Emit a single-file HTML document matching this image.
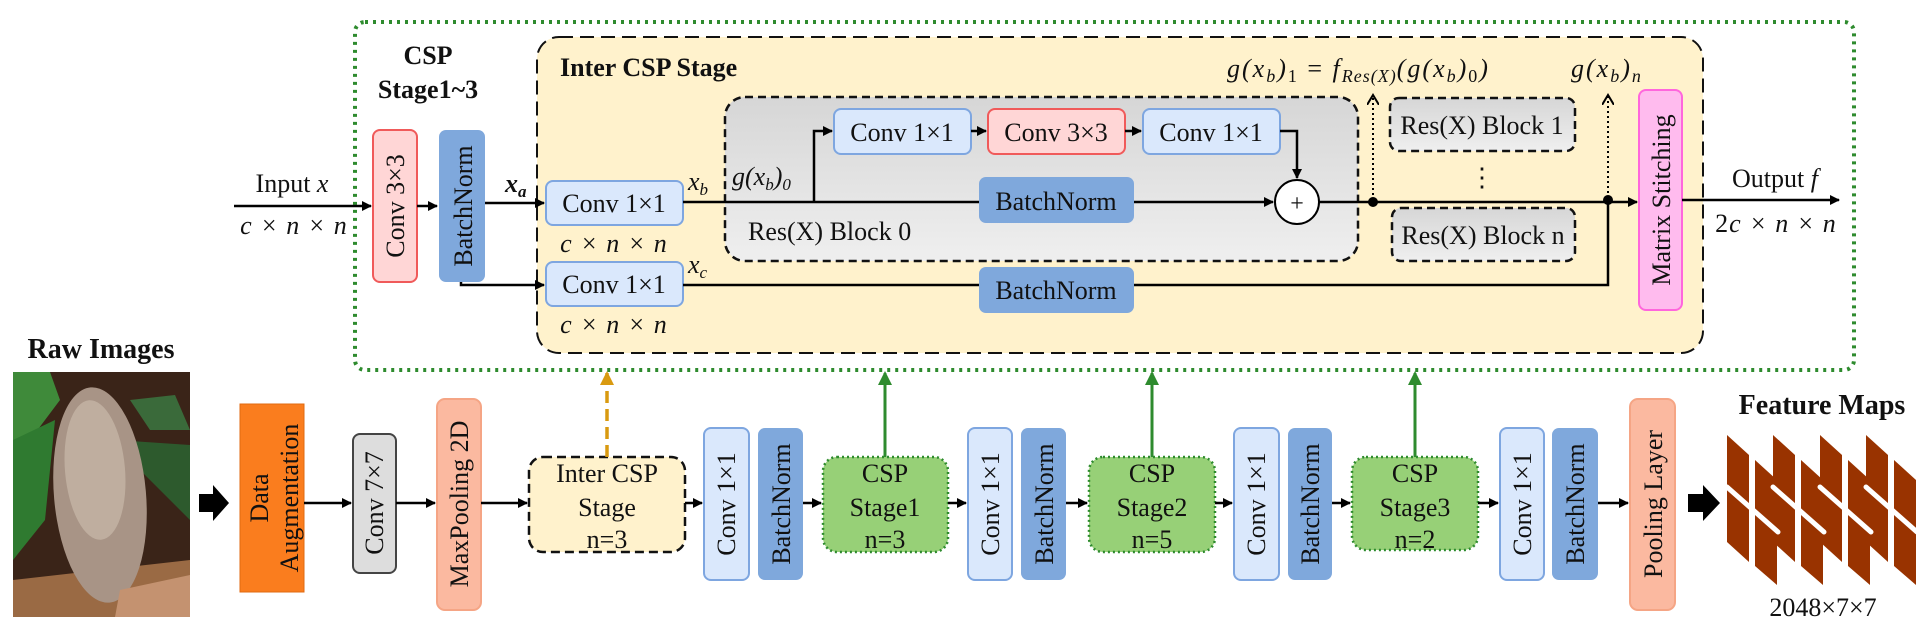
<!DOCTYPE html>
<html><head><meta charset="utf-8"><style>
html,body{margin:0;padding:0;background:#fff;}
svg{display:block;}
text{font-family:"Liberation Serif","Times New Roman",serif;fill:#111;}
.t{font-size:26px;}
.i{font-style:italic;}
.b{font-weight:bold;}
</style></head><body>
<svg width="1931" height="639" viewBox="0 0 1931 639" xmlns="http://www.w3.org/2000/svg" font-family="Liberation Serif, serif">
<defs>
<marker id="a" markerWidth="10" markerHeight="10" refX="9" refY="5" orient="auto" markerUnits="userSpaceOnUse"><path d="M0,0 L10,5 L0,10 z" fill="#000"/></marker>
<marker id="ag" markerWidth="14" markerHeight="14" refX="12" refY="7" orient="auto" markerUnits="userSpaceOnUse"><path d="M0,0 L14,7 L0,14 z" fill="#2e8b2e"/></marker>
<marker id="ao" markerWidth="14" markerHeight="14" refX="12" refY="7" orient="auto" markerUnits="userSpaceOnUse"><path d="M0,0 L14,7 L0,14 z" fill="#d99a10"/></marker>
<marker id="ad" markerWidth="12" markerHeight="12" refX="10" refY="6" orient="auto" markerUnits="userSpaceOnUse"><path d="M0,0 L10,6 L0,12" fill="none" stroke="#000" stroke-width="2"/></marker>
<linearGradient id="gr" x1="0" y1="0" x2="0" y2="1"><stop offset="0" stop-color="#d6d6d6"/><stop offset="1" stop-color="#efefef"/></linearGradient>
</defs>

<rect x="355" y="22" width="1499" height="348" rx="10" fill="none" stroke="#2e8b2e" stroke-width="4" stroke-dasharray="3 5"/>
<rect x="537" y="37" width="1166" height="316" rx="22" fill="#fff2cc" stroke="#111" stroke-width="2" stroke-dasharray="14 7"/>

<text class="t b" x="428" y="64" text-anchor="middle">CSP</text>
<text class="t b" x="428" y="98" text-anchor="middle">Stage1~3</text>
<text class="t b" x="560" y="76">Inter CSP Stage</text>

<line x1="234" y1="206" x2="371" y2="206" stroke="#000" stroke-width="2.5" marker-end="url(#a)"/>
<text class="t" x="292" y="192" text-anchor="middle">Input <tspan class="i">x</tspan></text>
<text class="t i" x="294" y="234" text-anchor="middle" letter-spacing="1">c × n × n</text>

<rect x="373" y="130" width="44" height="152" rx="7" fill="#ffd6d6" stroke="#f05a5a" stroke-width="2"/>
<text class="t" transform="translate(404,206) rotate(-90)" text-anchor="middle">Conv  3×3</text>
<line x1="417" y1="206" x2="437" y2="206" stroke="#000" stroke-width="2.5" marker-end="url(#a)"/>
<rect x="439" y="130" width="46" height="152" rx="7" fill="#7fa8dc"/>
<text class="t" transform="translate(472,206) rotate(-90)" text-anchor="middle">BatchNorm</text>

<line x1="485" y1="203" x2="544" y2="203" stroke="#000" stroke-width="2.5" marker-end="url(#a)"/>
<text class="t i b" x="505" y="192">x<tspan font-size="17" dy="5">a</tspan></text>
<polyline points="461,282 461,285 544,285" fill="none" stroke="#000" stroke-width="2.5" marker-end="url(#a)"/>

<rect x="546" y="181" width="137" height="44" rx="7" fill="#dae8fc" stroke="#7ea6e0" stroke-width="2"/>
<text class="t" x="614" y="212" text-anchor="middle">Conv  1×1</text>
<text class="t i" x="614" y="252" text-anchor="middle" letter-spacing="1">c × n × n</text>
<rect x="546" y="262" width="137" height="44" rx="7" fill="#dae8fc" stroke="#7ea6e0" stroke-width="2"/>
<text class="t" x="614" y="293" text-anchor="middle">Conv  1×1</text>
<text class="t i" x="614" y="333" text-anchor="middle" letter-spacing="1">c × n × n</text>
<text class="t i" x="688" y="190">x<tspan font-size="17" dy="5">b</tspan></text>
<text class="t i" x="688" y="273">x<tspan font-size="17" dy="5">c</tspan></text>

<rect x="725" y="97" width="633" height="164" rx="20" fill="url(#gr)" stroke="#111" stroke-width="2.5" stroke-dasharray="8 5"/>
<text class="t i" x="732" y="185">g(x<tspan font-size="17" dy="5">b</tspan><tspan dy="-5">)</tspan><tspan font-size="17" dy="5">0</tspan></text>
<text class="t" x="748" y="240">Res(X) Block  0</text>
<line x1="683" y1="202" x2="1273" y2="202" stroke="#000" stroke-width="2.5" marker-end="url(#a)"/>
<polyline points="814,202 814,131 832,131" fill="none" stroke="#000" stroke-width="2.5" marker-end="url(#a)"/>
<rect x="834" y="109" width="137" height="45" rx="7" fill="#dae8fc" stroke="#7ea6e0" stroke-width="2"/>
<text class="t" x="902" y="141" text-anchor="middle">Conv  1×1</text>
<line x1="971" y1="131" x2="986" y2="131" stroke="#000" stroke-width="2.5" marker-end="url(#a)"/>
<rect x="988" y="109" width="137" height="45" rx="7" fill="#ffd6d6" stroke="#f05a5a" stroke-width="2"/>
<text class="t" x="1056" y="141" text-anchor="middle">Conv  3×3</text>
<line x1="1125" y1="131" x2="1141" y2="131" stroke="#000" stroke-width="2.5" marker-end="url(#a)"/>
<rect x="1143" y="109" width="137" height="45" rx="7" fill="#dae8fc" stroke="#7ea6e0" stroke-width="2"/>
<text class="t" x="1211" y="141" text-anchor="middle">Conv  1×1</text>
<polyline points="1280,131 1297,131 1297,178" fill="none" stroke="#000" stroke-width="2.5" marker-end="url(#a)"/>
<rect x="979" y="177" width="155" height="46" rx="7" fill="#7fa8dc"/>
<text class="t" x="1056" y="210" text-anchor="middle">BatchNorm</text>
<circle cx="1297" cy="202" r="22" fill="#fff" stroke="#000" stroke-width="2"/>
<text x="1297" y="211" text-anchor="middle" font-size="24">+</text>
<line x1="1319" y1="202" x2="1637" y2="202" stroke="#000" stroke-width="2.5" marker-end="url(#a)"/>
<circle cx="1373" cy="202" r="5" fill="#000"/>
<line x1="1373" y1="200" x2="1373" y2="95" stroke="#000" stroke-width="2" stroke-dasharray="2 3" marker-end="url(#ad)"/>
<circle cx="1608" cy="200" r="5" fill="#000"/>
<line x1="1608" y1="198" x2="1608" y2="95" stroke="#000" stroke-width="2" stroke-dasharray="2 3" marker-end="url(#ad)"/>

<text class="t i" x="1227" y="77" font-size="28" letter-spacing="2">g(x<tspan font-size="18" dy="5">b</tspan><tspan dy="-5">)</tspan><tspan font-size="18" dy="5" font-style="normal">1</tspan><tspan dy="-5" font-style="normal"> = </tspan>f<tspan font-size="18" dy="5" letter-spacing="1">Res(X)</tspan><tspan dy="-5">(g(x</tspan><tspan font-size="18" dy="5">b</tspan><tspan dy="-5">)</tspan><tspan font-size="18" dy="5" font-style="normal">0</tspan><tspan dy="-5">)</tspan></text>
<text class="t i" x="1571" y="77" font-size="28" letter-spacing="2">g(x<tspan font-size="18" dy="5">b</tspan><tspan dy="-5">)</tspan><tspan font-size="18" dy="5">n</tspan></text>

<rect x="1390" y="98" width="185" height="53" rx="9" fill="url(#gr)" stroke="#111" stroke-width="2.5" stroke-dasharray="8 5"/>
<text class="t" x="1482" y="134" text-anchor="middle">Res(X) Block  1</text>
<text class="t" x="1482" y="186" text-anchor="middle">⋮</text>
<rect x="1392" y="208" width="183" height="53" rx="9" fill="url(#gr)" stroke="#111" stroke-width="2.5" stroke-dasharray="8 5"/>
<text class="t" x="1483" y="244" text-anchor="middle">Res(X) Block  n</text>

<line x1="683" y1="285" x2="979" y2="285" stroke="#000" stroke-width="2.5"/>
<rect x="979" y="267" width="155" height="46" rx="7" fill="#7fa8dc"/>
<text class="t" x="1056" y="299" text-anchor="middle">BatchNorm</text>
<polyline points="1134,285 1608,285 1608,202" fill="none" stroke="#000" stroke-width="2.5"/>

<rect x="1639" y="90" width="43" height="220" rx="7" fill="#ffbbee" stroke="#ff66dd" stroke-width="2"/>
<text class="t" transform="translate(1670,200) rotate(-90)" text-anchor="middle">Matrix  Stitching</text>
<line x1="1682" y1="200" x2="1839" y2="200" stroke="#000" stroke-width="2.5" marker-end="url(#a)"/>
<text class="t" x="1775" y="187" text-anchor="middle">Output <tspan class="i">f</tspan></text>
<text class="t" x="1776" y="232" text-anchor="middle" letter-spacing="1">2<tspan class="i">c × n × n</tspan></text>

<text class="b" x="101" y="358" text-anchor="middle" font-size="28">Raw Images</text>
<g>
<rect x="13" y="372" width="177" height="245" fill="#3a2418"/>
<polygon points="13,372 50,372 60,400 30,440 13,450" fill="#3f8a3a"/>
<polygon points="13,440 55,420 45,520 13,560" fill="#2f7a30"/>
<polygon points="115,440 190,445 190,520 140,470" fill="#2d5a2d"/>
<polygon points="130,400 175,395 190,430 150,430" fill="#3a6a3a"/>
<polygon points="13,580 190,560 190,617 13,617" fill="#9a6a44"/>
<ellipse cx="100" cy="495" rx="46" ry="108" fill="#a89486" transform="rotate(-5 100 495)"/>
<ellipse cx="95" cy="470" rx="30" ry="70" fill="#bfae9f" transform="rotate(-5 95 470)"/>
<polygon points="120,590 190,575 190,617 115,617" fill="#c49270"/>
</g>
<polygon points="199,494 213,494 213,485 229,503 213,521 213,512 199,512" fill="#000"/>

<rect x="240" y="404" width="64" height="188" fill="#fa7d1e" stroke="#e06a10" stroke-width="1"/>
<text class="t" transform="translate(268,498) rotate(-90)" text-anchor="middle">Data</text>
<text class="t" transform="translate(298,498) rotate(-90)" text-anchor="middle">Augmentation</text>
<line x1="304" y1="503" x2="351" y2="503" stroke="#000" stroke-width="2.5" marker-end="url(#a)"/>
<rect x="353" y="434" width="43" height="139" rx="7" fill="#dddddd" stroke="#444" stroke-width="2"/>
<text class="t" transform="translate(383,503) rotate(-90)" text-anchor="middle">Conv   7×7</text>
<line x1="396" y1="503" x2="435" y2="503" stroke="#000" stroke-width="2.5" marker-end="url(#a)"/>
<rect x="437" y="399" width="44" height="211" rx="8" fill="#fbb9a0" stroke="#f5a585" stroke-width="2"/>
<text class="t" transform="translate(468,504) rotate(-90)" text-anchor="middle">MaxPooling  2D</text>
<line x1="481" y1="503" x2="527" y2="503" stroke="#000" stroke-width="2.5" marker-end="url(#a)"/>
<rect x="529" y="457" width="156" height="95" rx="14" fill="#fff2cc" stroke="#111" stroke-width="2.5" stroke-dasharray="9 5"/>
<text class="t" x="607" y="482" text-anchor="middle">Inter CSP</text>
<text class="t" x="607" y="516" text-anchor="middle">Stage</text>
<text class="t" x="607" y="548" text-anchor="middle">n=3</text>
<line x1="607" y1="457" x2="607" y2="373" stroke="#d99a10" stroke-width="3.5" stroke-dasharray="12 6" marker-end="url(#ao)"/>

<line x1="685" y1="503" x2="702" y2="503" stroke="#000" stroke-width="2.5" marker-end="url(#a)"/>
<rect x="704" y="428" width="45" height="152" rx="7" fill="#dae8fc" stroke="#7ea6e0" stroke-width="2"/>
<text class="t" transform="translate(735,504) rotate(-90)" text-anchor="middle">Conv  1×1</text>
<rect x="758" y="428" width="45" height="152" rx="7" fill="#7fa8dc"/>
<text class="t" transform="translate(790,504) rotate(-90)" text-anchor="middle">BatchNorm</text>
<line x1="803" y1="503" x2="821" y2="503" stroke="#000" stroke-width="2.5" marker-end="url(#a)"/>
<rect x="823" y="457" width="125" height="95" rx="14" fill="#97d077" stroke="#2e8b2e" stroke-width="2.5" stroke-dasharray="2 3"/>
<text class="t" x="885" y="482" text-anchor="middle">CSP</text>
<text class="t" x="885" y="516" text-anchor="middle">Stage1</text>
<text class="t" x="885" y="548" text-anchor="middle">n=3</text>
<line x1="885" y1="457" x2="885" y2="373" stroke="#2e8b2e" stroke-width="3" marker-end="url(#ag)"/>
<line x1="948" y1="503" x2="966" y2="503" stroke="#000" stroke-width="2.5" marker-end="url(#a)"/>

<rect x="968" y="428" width="44" height="152" rx="7" fill="#dae8fc" stroke="#7ea6e0" stroke-width="2"/>
<text class="t" transform="translate(999,504) rotate(-90)" text-anchor="middle">Conv  1×1</text>
<rect x="1021" y="428" width="45" height="152" rx="7" fill="#7fa8dc"/>
<text class="t" transform="translate(1053,504) rotate(-90)" text-anchor="middle">BatchNorm</text>
<line x1="1066" y1="503" x2="1087" y2="503" stroke="#000" stroke-width="2.5" marker-end="url(#a)"/>
<rect x="1089" y="457" width="126" height="95" rx="14" fill="#97d077" stroke="#2e8b2e" stroke-width="2.5" stroke-dasharray="2 3"/>
<text class="t" x="1152" y="482" text-anchor="middle">CSP</text>
<text class="t" x="1152" y="516" text-anchor="middle">Stage2</text>
<text class="t" x="1152" y="548" text-anchor="middle">n=5</text>
<line x1="1152" y1="457" x2="1152" y2="373" stroke="#2e8b2e" stroke-width="3" marker-end="url(#ag)"/>
<line x1="1215" y1="503" x2="1232" y2="503" stroke="#000" stroke-width="2.5" marker-end="url(#a)"/>

<rect x="1234" y="428" width="45" height="152" rx="7" fill="#dae8fc" stroke="#7ea6e0" stroke-width="2"/>
<text class="t" transform="translate(1265,504) rotate(-90)" text-anchor="middle">Conv  1×1</text>
<rect x="1288" y="428" width="44" height="152" rx="7" fill="#7fa8dc"/>
<text class="t" transform="translate(1319,504) rotate(-90)" text-anchor="middle">BatchNorm</text>
<line x1="1332" y1="503" x2="1350" y2="503" stroke="#000" stroke-width="2.5" marker-end="url(#a)"/>
<rect x="1352" y="457" width="126" height="93" rx="14" fill="#97d077" stroke="#2e8b2e" stroke-width="2.5" stroke-dasharray="2 3"/>
<text class="t" x="1415" y="482" text-anchor="middle">CSP</text>
<text class="t" x="1415" y="516" text-anchor="middle">Stage3</text>
<text class="t" x="1415" y="548" text-anchor="middle">n=2</text>
<line x1="1415" y1="457" x2="1415" y2="373" stroke="#2e8b2e" stroke-width="3" marker-end="url(#ag)"/>
<line x1="1478" y1="503" x2="1498" y2="503" stroke="#000" stroke-width="2.5" marker-end="url(#a)"/>

<rect x="1500" y="428" width="44" height="152" rx="7" fill="#dae8fc" stroke="#7ea6e0" stroke-width="2"/>
<text class="t" transform="translate(1531,504) rotate(-90)" text-anchor="middle">Conv  1×1</text>
<rect x="1552" y="428" width="46" height="152" rx="7" fill="#7fa8dc"/>
<text class="t" transform="translate(1584,504) rotate(-90)" text-anchor="middle">BatchNorm</text>
<line x1="1598" y1="503" x2="1628" y2="503" stroke="#000" stroke-width="2.5" marker-end="url(#a)"/>
<rect x="1630" y="399" width="45" height="211" rx="8" fill="#fbb9a0" stroke="#f5a585" stroke-width="2"/>
<text class="t" transform="translate(1662,504) rotate(-90)" text-anchor="middle">Pooling   Layer</text>
<polygon points="1688,494 1703,494 1703,485 1720,503 1703,521 1703,512 1688,512" fill="#000"/>

<text class="b" x="1822" y="414" text-anchor="middle" font-size="28">Feature Maps</text>
<g>
<polygon points="1727,435 1749,455 1749,562 1727,542" fill="#993300"/>
<polygon points="1773,435 1795,455 1795,562 1773,542" fill="#993300"/>
<polygon points="1820,435 1842,455 1842,562 1820,542" fill="#993300"/>
<polygon points="1866,435 1888,455 1888,562 1866,542" fill="#993300"/>
<polygon points="1755,460 1777,480 1777,585 1755,566" fill="#993300"/>
<polygon points="1801,460 1823,480 1823,585 1801,566" fill="#993300"/>
<polygon points="1848,460 1870,480 1870,585 1848,566" fill="#993300"/>
<polygon points="1894,460 1916,480 1916,585 1894,566" fill="#993300"/>
<g stroke="#fff" stroke-width="5" stroke-linecap="round">
<line x1="1752" y1="455" x2="1752" y2="565"/><line x1="1798" y1="455" x2="1798" y2="565"/>
<line x1="1845" y1="455" x2="1845" y2="565"/><line x1="1891" y1="455" x2="1891" y2="565"/>
<line x1="1727" y1="487" x2="1778" y2="532"/><line x1="1773" y1="487" x2="1824" y2="532"/>
<line x1="1820" y1="487" x2="1871" y2="532"/><line x1="1866" y1="487" x2="1917" y2="532"/>
</g>
</g>
<text class="t" x="1823" y="616" text-anchor="middle">2048×7×7</text>
</svg>
</body></html>
